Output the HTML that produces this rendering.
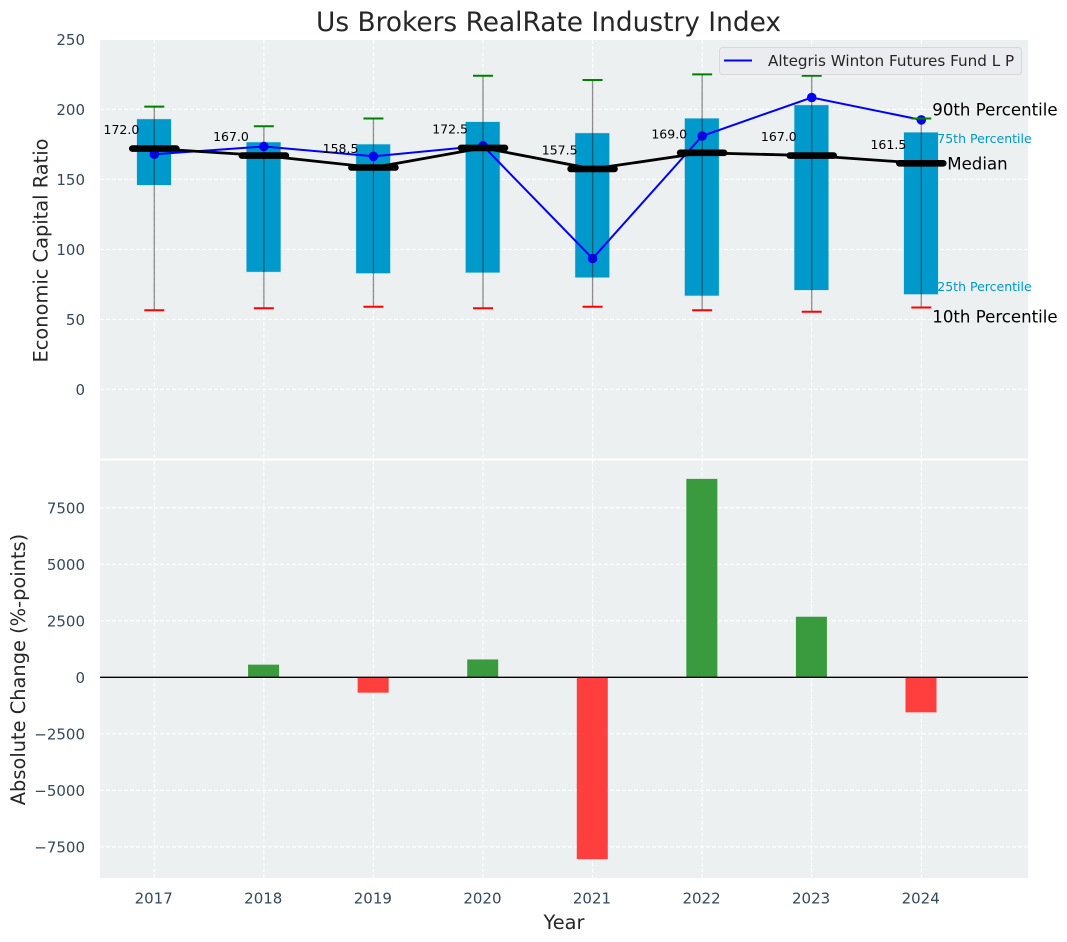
<!DOCTYPE html>
<html lang="en">
<head>
<meta charset="utf-8">
<title>Us Brokers RealRate Industry Index</title>
<style>
html,body{margin:0;padding:0;background:#fff;}
svg{display:block;font-family:"DejaVu Sans","Liberation Sans",sans-serif;}
</style>
</head>
<body>
<svg id="chart" xmlns="http://www.w3.org/2000/svg" width="1067" height="942" viewBox="0 0 1067 942"></svg>
<script>
const years = [2017, 2018, 2019, 2020, 2021, 2022, 2023, 2024];
const p90 = [202, 188, 193.5, 224, 221, 225, 224, 193.5];
const p75 = [193, 176.5, 175, 191, 183, 193.5, 203, 183.5];
const medians = [172.0, 167.0, 158.5, 172.5, 157.5, 169.0, 167.0, 161.5];
const p25 = [146, 84, 83, 83.5, 80, 67, 71, 68];
const p10 = [56.5, 58, 59, 58, 59, 56.5, 55.5, 58.5];
const fund = [168, 173.5, 166.5, 174, 93.5, 181, 208.5, 192.5];
const changes = [0, 560, -680, 790, -8050, 8780, 2680, -1550];
const topTicks = [0, 50, 100, 150, 200, 250];
const bottomTicks = [-7500, -5000, -2500, 0, 2500, 5000, 7500];

const NS = 'http://www.w3.org/2000/svg';
const svg = document.getElementById('chart');
const L = 100, R = 1028, T1 = 40, B1 = 458.5, T2 = 460.5, B2 = 878;
const x = function (yr) { return 154.3 + (yr - 2017) * 109.57; };
const y1 = function (v) { return 389.4 - v * 1.4; };
const y2 = function (v) { return 677.3 - v * 0.0226; };

function make(tag, attrs, text) {
  const el = document.createElementNS(NS, tag);
  for (const k in attrs) el.setAttribute(k, attrs[k]);
  if (text !== undefined) el.textContent = text;
  svg.appendChild(el);
  return el;
}
function name(el, n, inter) {
  
  
  return el;
}
function minus(v) { return String(v).replace('-', '\u2212'); }

let el;
el = make('rect', { x: L, y: T1, width: R - L, height: B1 - T1, fill: '#ecf0f1' });
name(el, 'top-plot-area', false);
el = make('rect', { x: L, y: T2, width: R - L, height: B2 - T2, fill: '#ecf0f1' });
name(el, 'bottom-plot-area', false);

const gridStyle = { stroke: '#ffffff', 'stroke-width': 1.1, 'stroke-dasharray': '4 2', fill: 'none' };
years.forEach(function (yr) {
  el = make('line', Object.assign({ x1: x(yr), x2: x(yr), y1: T1, y2: B1 }, gridStyle));
  name(el, 'top-grid-x-' + yr, false);
  el = make('line', Object.assign({ x1: x(yr), x2: x(yr), y1: T2, y2: B2 }, gridStyle));
  name(el, 'bottom-grid-x-' + yr, false);
  el = make('text', { x: x(yr) - 0.6, y: 903.5, 'text-anchor': 'middle', 'font-size': 15, fill: '#34495e' }, String(yr));
  name(el, 'x-tick-' + yr, false);
});
topTicks.forEach(function (t) {
  el = make('line', Object.assign({ x1: L, x2: R, y1: y1(t), y2: y1(t) }, gridStyle));
  name(el, 'top-grid-y-' + t, false);
  el = make('text', { x: 85, y: y1(t) + 5.7, 'text-anchor': 'end', 'font-size': 15, fill: '#34495e' }, String(t));
  name(el, 'top-y-tick-' + t, false);
});
bottomTicks.forEach(function (t) {
  el = make('line', Object.assign({ x1: L, x2: R, y1: y2(t), y2: y2(t) }, gridStyle));
  name(el, 'bottom-grid-y-' + t, false);
  el = make('text', { x: 85, y: y2(t) + 5.7, 'text-anchor': 'end', 'font-size': 15, fill: '#34495e' }, minus(t));
  name(el, 'bottom-y-tick-' + t, false);
});

years.forEach(function (yr, i) {
  const top = y1(p75[i]);
  const bot = y1(p25[i]);
  el = make('rect', { x: x(yr) - 17.3, y: top, width: 34, height: bot - top, fill: '#0099cc', stroke: '#0099cc', 'stroke-opacity': 0.2, 'stroke-width': 1 });
  name(el, 'iqr-box-' + yr, false);
});

const fundPoints = years.map(function (yr, i) { return x(yr) + ',' + y1(fund[i]); }).join(' ');
el = make('polyline', { points: fundPoints, fill: 'none', stroke: '#0000ff', 'stroke-width': 2 });
name(el, 'fund-line', false);
years.forEach(function (yr, i) {
  el = make('circle', { cx: x(yr), cy: y1(fund[i]), r: 4.8, fill: '#0000ff' });
  name(el, 'fund-point-' + yr, false);
});

years.forEach(function (yr, i) {
  el = make('line', { x1: x(yr), x2: x(yr), y1: y1(p90[i]), y2: y1(p10[i]), stroke: '#222222', 'stroke-opacity': 0.5, 'stroke-width': 1.3 });
  name(el, 'whisker-' + yr, false);
  el = make('line', { x1: x(yr) - 10, x2: x(yr) + 10, y1: y1(p90[i]), y2: y1(p90[i]), stroke: '#008000', 'stroke-width': 2 });
  name(el, 'p90-cap-' + yr, false);
  el = make('line', { x1: x(yr) - 10, x2: x(yr) + 10, y1: y1(p10[i]), y2: y1(p10[i]), stroke: '#ff0000', 'stroke-width': 2 });
  name(el, 'p10-cap-' + yr, false);
});

const medianPoints = years.map(function (yr, i) { return x(yr) + ',' + y1(medians[i]); }).join(' ');
el = make('polyline', { points: medianPoints, fill: 'none', stroke: '#000000', 'stroke-width': 2.8 });
name(el, 'median-line', false);
years.forEach(function (yr, i) {
  el = make('line', { x1: x(yr) - 22, x2: x(yr) + 22, y1: y1(medians[i]), y2: y1(medians[i]), stroke: '#000000', 'stroke-width': 6.6, 'stroke-linecap': 'round' });
  name(el, 'median-bar-' + yr, false);
  el = make('text', { x: x(yr) - 15, y: y1(medians[i]) - 14.5, 'text-anchor': 'end', 'font-size': 12.5, fill: '#000000' }, medians[i].toFixed(1));
  name(el, 'median-label-' + yr, false);
});

const last = years.length - 1;
const lastX = x(years[last]);
el = make('text', { x: lastX + 11, y: y1(p90[last]) - 3, 'font-size': 16.6, fill: '#000000' }, '90th Percentile');
name(el, 'annotation-90th-percentile', false);
el = make('text', { x: lastX + 16, y: y1(p75[last]) + 10.5, 'font-size': 12.5, fill: '#0099cc' }, '75th Percentile');
name(el, 'annotation-75th-percentile', false);
el = make('text', { x: lastX + 26, y: y1(medians[last]) + 6, 'font-size': 16.6, fill: '#000000' }, 'Median');
name(el, 'annotation-median', false);
el = make('text', { x: lastX + 16, y: y1(p25[last]) - 3, 'font-size': 12.5, fill: '#0099cc' }, '25th Percentile');
name(el, 'annotation-25th-percentile', false);
el = make('text', { x: lastX + 11, y: y1(p10[last]) + 15, 'font-size': 16.6, fill: '#000000' }, '10th Percentile');
name(el, 'annotation-10th-percentile', false);

el = make('rect', { x: 719.5, y: 47.5, width: 302, height: 27, rx: 3, fill: '#eaecf0', stroke: '#d6d8dc', 'stroke-width': 1 });
name(el, 'legend-box', false);
el = make('line', { x1: 724, x2: 752, y1: 60.5, y2: 60.5, stroke: '#0000ff', 'stroke-width': 2 });
name(el, 'legend-line', false);
el = make('text', { x: 768, y: 66, 'font-size': 15.2, fill: '#262626' }, 'Altegris Winton Futures Fund L P');
name(el, 'legend-label', false);

years.forEach(function (yr, i) {
  const v = changes[i];
  if (v === 0) return;
  const a = y2(Math.max(v, 0));
  const b = y2(Math.min(v, 0));
  el = make('rect', { x: x(yr) - 15.8, y: a, width: 31, height: b - a, fill: v > 0 ? '#3a9b3e' : '#ff3e3e' });
  name(el, 'change-bar-' + yr, false);
});
el = make('line', { x1: L, x2: R, y1: y2(0), y2: y2(0), stroke: '#000000', 'stroke-width': 1.4 });
name(el, 'zero-line', false);

el = make('text', { x: 548.5, y: 31, 'text-anchor': 'middle', 'font-size': 26.4, fill: '#262626' }, 'Us Brokers RealRate Industry Index');
name(el, 'chart-title', false);
el = make('text', { x: 564, y: 929, 'text-anchor': 'middle', 'font-size': 19.4, fill: '#262626' }, 'Year');
name(el, 'x-axis-title', false);
el = make('text', { transform: 'translate(47.5,250.5) rotate(-90)', 'text-anchor': 'middle', 'font-size': 19.4, fill: '#262626' }, 'Economic Capital Ratio');
name(el, 'top-y-axis-title', false);
el = make('text', { transform: 'translate(25,669.5) rotate(-90)', 'text-anchor': 'middle', 'font-size': 19.4, fill: '#262626' }, 'Absolute Change (%-points)');
name(el, 'bottom-y-axis-title', false);
</script>
</body>
</html>
